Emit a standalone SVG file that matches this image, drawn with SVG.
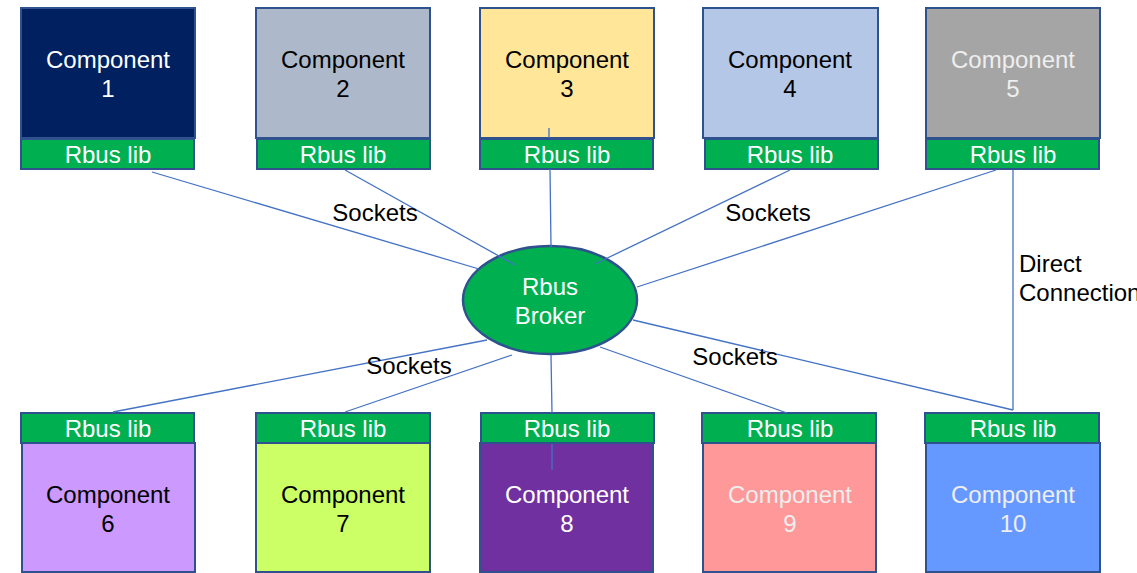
<svg xmlns="http://www.w3.org/2000/svg" width="1137" height="573" viewBox="0 0 1137 573">
<style>
text{font-family:"Liberation Sans",Arial,sans-serif;font-size:24px;text-anchor:middle}
.box{stroke:#2f528f;stroke-width:2}
.lib{fill:#00b050;stroke:#2f528f;stroke-width:2}
.lt{fill:#ffffff}
.dk{fill:#000000}
.gy{fill:#eeeeee}
.conn{stroke:#4472c4;stroke-width:1.3;fill:none}
.lbl{fill:#000000}
</style>
<rect width="1137" height="573" fill="#ffffff"/>
<g id="nodes">
<g id="c1"><rect class="box" x="21" y="8" width="174" height="130" fill="#002060"/><text class="lt" x="108" y="68">Component</text><text class="lt" x="108" y="97">1</text><rect class="lib" x="21" y="139" width="173" height="30"/><text class="lt" x="108" y="163">Rbus lib</text></g>
<g id="c2"><rect class="box" x="256" y="8" width="174" height="130" fill="#adb9ca"/><text class="dk" x="343" y="68">Component</text><text class="dk" x="343" y="97">2</text><rect class="lib" x="257" y="139" width="173" height="30"/><text class="lt" x="343" y="163">Rbus lib</text></g>
<g id="c3"><rect class="box" x="480" y="8" width="174" height="130" fill="#ffe699"/><text class="dk" x="567" y="68">Component</text><text class="dk" x="567" y="97">3</text><rect class="lib" x="480" y="139" width="173" height="30"/><text class="lt" x="567" y="163">Rbus lib</text></g>
<g id="c4"><rect class="box" x="703" y="8" width="175" height="130" fill="#b4c7e7"/><text class="dk" x="790" y="68">Component</text><text class="dk" x="790" y="97">4</text><rect class="lib" x="705" y="139" width="173" height="30"/><text class="lt" x="790" y="163">Rbus lib</text></g>
<g id="c5"><rect class="box" x="926" y="8" width="174" height="130" fill="#a5a5a5"/><text class="gy" x="1013" y="68">Component</text><text class="gy" x="1013" y="97">5</text><rect class="lib" x="926" y="139" width="173" height="30"/><text class="lt" x="1013" y="163">Rbus lib</text></g>
<g id="c6"><rect class="box" x="22" y="443" width="173" height="129" fill="#cc99ff"/><text class="dk" x="108" y="503">Component</text><text class="dk" x="108" y="532">6</text><rect class="lib" x="21" y="413" width="173" height="30"/><text class="lt" x="108" y="437">Rbus lib</text></g>
<g id="c7"><rect class="box" x="256" y="443" width="174" height="129" fill="#ccff66"/><text class="dk" x="343" y="503">Component</text><text class="dk" x="343" y="532">7</text><rect class="lib" x="256" y="413" width="174" height="30"/><text class="lt" x="343" y="437">Rbus lib</text></g>
<g id="c8"><rect class="box" x="480" y="443" width="173" height="129" fill="#7030a0"/><text class="lt" x="567" y="503">Component</text><text class="lt" x="567" y="532">8</text><rect class="lib" x="481" y="413" width="173" height="30"/><text class="lt" x="567" y="437">Rbus lib</text></g>
<g id="c9"><rect class="box" x="703" y="443" width="173" height="129" fill="#ff9999"/><text class="gy" x="790" y="503">Component</text><text class="gy" x="790" y="532">9</text><rect class="lib" x="702" y="413" width="174" height="30"/><text class="lt" x="790" y="437">Rbus lib</text></g>
<g id="c10"><rect class="box" x="926" y="443" width="174" height="129" fill="#6699ff"/><text class="gy" x="1013" y="503">Component</text><text class="gy" x="1013" y="532">10</text><rect class="lib" x="925" y="413" width="174" height="30"/><text class="lt" x="1013" y="437">Rbus lib</text></g>
<g id="broker"><ellipse cx="550" cy="300" rx="87" ry="54" fill="#00b050" stroke="#2f528f" stroke-width="2.5"/><text class="lt" x="550" y="295">Rbus</text><text class="lt" x="550" y="324">Broker</text></g>
</g>
<g id="connectors">
<path class="conn" d="M152 172 L479 269"/>
<path class="conn" d="M345 170 L515 265"/>
<path class="conn" d="M549 128 L549 138 M550 169 L551 247"/>
<path class="conn" d="M790 170 L595 264"/>
<path class="conn" d="M996 170 L637 287"/>
<path class="conn" d="M113 412 L487 340"/>
<path class="conn" d="M345 412 L512 355"/>
<path class="conn" d="M551 355 L552 413 M552 444 L552 470"/>
<path class="conn" d="M600 347 L787 413"/>
<path class="conn" d="M633 320 L1013 410"/>
<path class="conn" d="M1013 170 L1013 410"/>
</g>
<g id="labels">
<text class="lbl" x="375" y="221">Sockets</text>
<text class="lbl" x="768" y="221">Sockets</text>
<text class="lbl" x="409" y="374">Sockets</text>
<text class="lbl" x="735" y="365">Sockets</text>
<text class="lbl" x="1019" y="272" style="text-anchor:start">Direct</text>
<text class="lbl" x="1019" y="301" style="text-anchor:start">Connection</text>
</g>
</svg>
